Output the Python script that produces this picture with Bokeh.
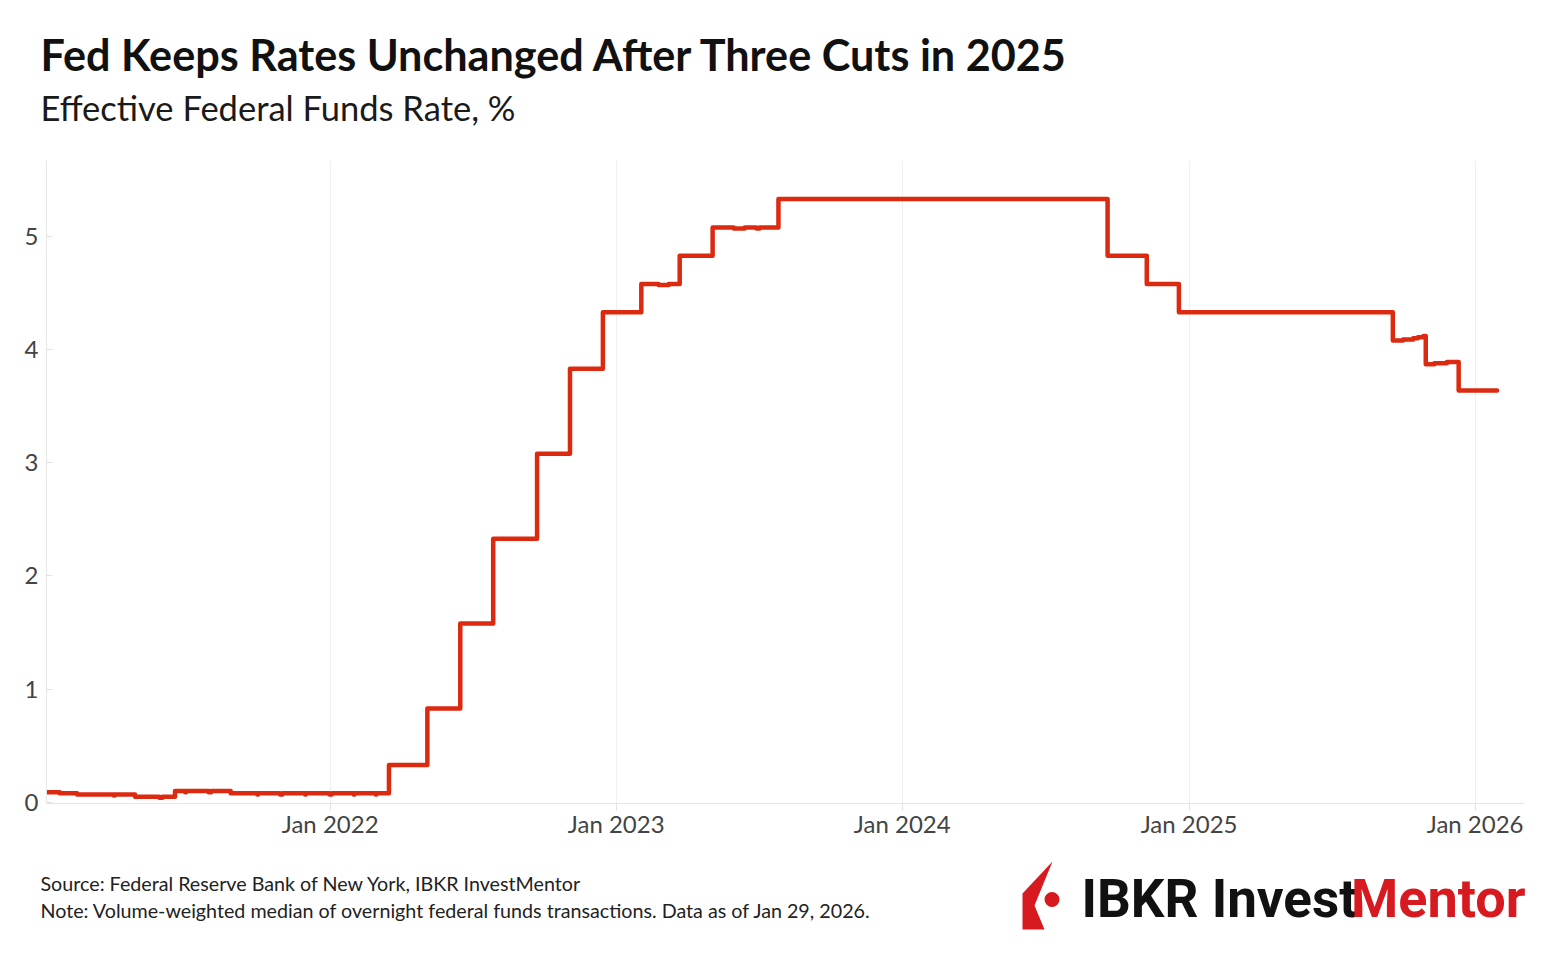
import pandas as pd
from bokeh.plotting import figure
from bokeh.layouts import column
from bokeh.models import (Label, FixedTicker, DatetimeTickFormatter, Range1d, ColumnDataSource)
from bokeh.embed import file_html
from bokeh.resources import INLINE

# ---- data: effective federal funds rate, change points (step "after") ----
change_dates = [
    "2021-01-04", "2021-01-21", "2021-02-12", "2021-03-31", "2021-04-01", "2021-04-27",
    "2021-05-28", "2021-06-01", "2021-06-17", "2021-06-30", "2021-07-01", "2021-07-30",
    "2021-08-02", "2021-08-27", "2021-09-30", "2021-10-01", "2021-10-29", "2021-11-01",
    "2021-11-30", "2021-12-01", "2021-12-31", "2022-01-03", "2022-01-31", "2022-02-01",
    "2022-02-28", "2022-03-01",
    "2022-03-17", "2022-05-05", "2022-06-16", "2022-07-28", "2022-09-22", "2022-11-03",
    "2022-12-15", "2023-02-02", "2023-02-24", "2023-03-09", "2023-03-23", "2023-05-04",
    "2023-05-31", "2023-06-14", "2023-06-29", "2023-07-03", "2023-07-27",
    "2024-09-19", "2024-11-08", "2024-12-19",
    "2025-09-18", "2025-10-01", "2025-10-14", "2025-10-20", "2025-10-27",
    "2025-10-30", "2025-11-10", "2025-11-26", "2025-12-11", "2026-01-29",
]
rates = [
    0.09, 0.08, 0.07, 0.06, 0.07, 0.05,
    0.04, 0.05, 0.10, 0.09, 0.10, 0.09,
    0.10, 0.08, 0.07, 0.08, 0.07, 0.08,
    0.07, 0.08, 0.07, 0.08, 0.07, 0.08,
    0.07, 0.08,
    0.33, 0.83, 1.58, 2.33, 3.08, 3.83,
    4.33, 4.58, 4.57, 4.58, 4.83, 5.08,
    5.07, 5.08, 5.07, 5.08, 5.33,
    4.83, 4.58, 4.33,
    4.08, 4.09, 4.10, 4.11, 4.12,
    3.87, 3.88, 3.89, 3.64, 3.64,
]
tick_years = [2022, 2023, 2024, 2025, 2026]
y_ticks = [0, 1, 2, 3, 4, 5]

title_text = "Fed Keeps Rates Unchanged After Three Cuts in 2025"
subtitle_text = "Effective Federal Funds Rate, %"
source_text = "Source: Federal Reserve Bank of New York, IBKR InvestMentor"
note_text = "Note: Volume-weighted median of overnight federal funds transactions. Data as of Jan 29, 2026."

FONT = "Lato"
RED = "#dc2a10"
LOGO_RED = "#d71920"
W = 1538
HEAD_H = 150      # reference y 0..150
CHART_H = 700     # reference y 150..850
FOOT_H = 90       # reference y 850..940
BASE_FIX = 0.4    # empirical baseline correction (fraction of font size)


def blank(top, h):
    f = figure(width=W, height=h, output_backend="svg", toolbar_location=None,
               x_range=Range1d(0, W), y_range=Range1d(top + h, top),
               x_axis_location=None, y_axis_location=None, min_border=0)
    f.frame_align = False
    f.outline_line_color = None
    f.grid.grid_line_color = None
    return f


def add_text(f, X, Y, text, size, color="#111111", style="normal", align="left", font=FONT):
    f.add_layout(Label(x=X, y=Y - BASE_FIX * size, text=text, text_font=font,
                       text_font_size=f"{size}px", text_color=color, text_font_style=style,
                       text_align=align, text_baseline="alphabetic"))


# ---- header ----
head = blank(0, HEAD_H)
add_text(head, 40, 71, title_text, 43.2, style="bold")
add_text(head, 40, 121, subtitle_text, 34.5, color="#1a1a1a")

# ---- chart ----
src = ColumnDataSource(dict(date=pd.to_datetime(change_dates), rate=rates))
p = figure(width=W, height=CHART_H, x_axis_type="datetime", output_backend="svg",
           toolbar_location=None,
           x_range=Range1d(pd.Timestamp("2021-01-04"), pd.Timestamp("2026-03-05")),
           y_range=Range1d(-0.01, 5.671))
p.frame_align = False
p.min_border_left = 46
p.min_border_right = W - 1524
p.min_border_top = 160 - HEAD_H
p.min_border_bottom = HEAD_H + CHART_H - 803
p.outline_line_color = None

p.step("date", "rate", source=src, mode="after", line_color=RED, line_width=4.5,
       line_join="round", line_cap="round")

xt = FixedTicker(ticks=[pd.Timestamp(f"{y}-01-01").value / 1e6 for y in tick_years])
p.xaxis.ticker = xt
p.xaxis.formatter = DatetimeTickFormatter(years="%b %Y", months="%b %Y", days="%b %Y",
                                          hours="%b %Y", minutes="%b %Y")
p.yaxis.ticker = FixedTicker(ticks=y_ticks)
for ax in (p.xaxis[0], p.yaxis[0]):
    ax.axis_line_color = "#e6e6e6"
    ax.major_tick_line_color = "#e8dede"
    ax.minor_tick_line_color = None
    ax.major_label_text_font = FONT
    ax.major_label_text_font_size = "24px"
    ax.major_label_text_color = "#444444"
p.xaxis.major_tick_in = 0
p.xaxis.major_tick_out = 7
p.xaxis.major_label_standoff = -2
p.yaxis.major_tick_in = 6
p.yaxis.major_tick_out = 0
p.yaxis.major_label_standoff = 8
p.xgrid.ticker = xt
p.xgrid.grid_line_color = "#f0f0f0"
p.ygrid.grid_line_color = None

# ---- footer ----
foot = blank(HEAD_H + CHART_H, FOOT_H)
add_text(foot, 40, 891, source_text, 19.7, color="#222222")
add_text(foot, 40, 918, note_text, 19.7, color="#222222")
foot.patch(x=[1052, 1022, 1022, 1044, 1034], y=[861, 893, 929, 929, 905],
           fill_color=LOGO_RED, line_color=None)
foot.circle(x=[1051.5], y=[899], radius=7.5, fill_color=LOGO_RED, line_color=None)
add_text(foot, 1081, 920, "IBKR Invest", 53, style="bold", font="Roboto")
add_text(foot, 1525, 920, "Mentor", 54, style="bold", font="Roboto", color=LOGO_RED,
         align="right")

layout = column(head, p, foot, spacing=0)
open("out.html", "w").write(file_html(layout, INLINE))
